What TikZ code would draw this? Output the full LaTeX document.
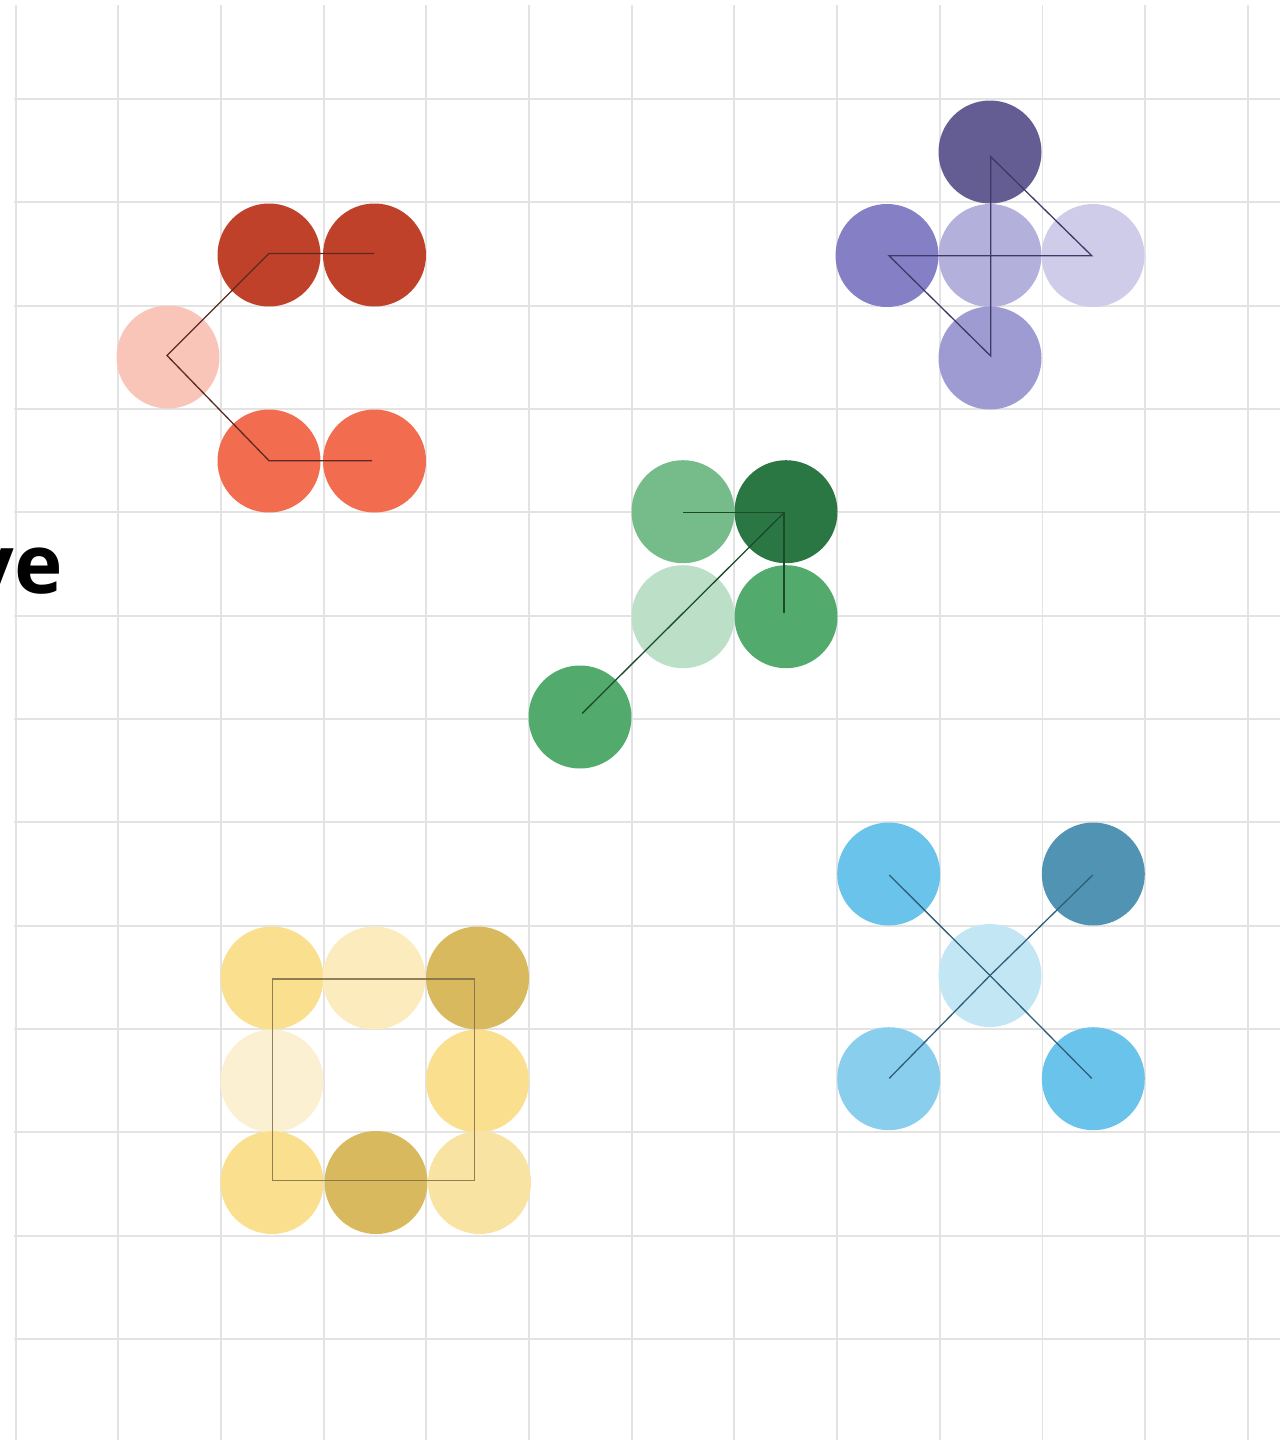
\documentclass[tikz,border=0pt]{standalone}
\usepackage{fontspec}
\setmainfont{Open Sans}
\begin{document}
\begin{tikzpicture}[x=1pt,y=-1pt,
  dot/.style={circle,inner sep=0pt,minimum size=103pt,draw=none,fill=#1},
  gridline/.style={draw=black!11,line width=1.8pt},
  link/.style={line width=1.3pt,draw=#1}]
\definecolor{rA}{HTML}{C0412A}\definecolor{rB}{HTML}{F9C5B9}\definecolor{rC}{HTML}{F26C50}\definecolor{rL}{HTML}{5B2A22}
\definecolor{pA}{HTML}{635D93}\definecolor{pB}{HTML}{8580C5}\definecolor{pC}{HTML}{B4B0DC}\definecolor{pD}{HTML}{CFCCE9}\definecolor{pE}{HTML}{9E9AD2}\definecolor{pL}{HTML}{3C3A68}
\definecolor{gA}{HTML}{76BB8A}\definecolor{gB}{HTML}{2A7744}\definecolor{gC}{HTML}{BCDFC7}\definecolor{gD}{HTML}{53AA6D}\definecolor{gL}{HTML}{1A4A2A}
\definecolor{yA}{HTML}{F9DF8E}\definecolor{yB}{HTML}{FBEBBD}\definecolor{yC}{HTML}{D8B95E}\definecolor{yD}{HTML}{FCF0D3}\definecolor{yE}{HTML}{F9E3A3}\definecolor{yL}{HTML}{7D6E48}
\definecolor{bA}{HTML}{6AC3EA}\definecolor{bB}{HTML}{5193B3}\definecolor{bC}{HTML}{C3E6F5}\definecolor{bD}{HTML}{8ACEEE}\definecolor{bL}{HTML}{2F5E78}
\useasboundingbox (0,0) rectangle (1280,1440);
\clip (0,0) rectangle (1280,1440);
% grid
\foreach \k in {0,...,12} {
  \draw[gridline] ({15.7+102.67*\k},5) -- ({15.7+102.67*\k},1440);
  \draw[gridline] (14,{99+103.33*\k}) -- (1280,{99+103.33*\k});
}
% text
\node[anchor=base east,inner sep=0pt,font=\bfseries\fontsize{82}{90}\selectfont] (title) at (63,593) {ve};
% red group
\node[dot=rA] (r1) at (269,255) {};
\node[dot=rA] (r2) at (374.5,255) {};
\node[dot=rB] (r3) at (168,357) {};
\node[dot=rC] (r4) at (269,461) {};
\node[dot=rC] (r5) at (374.5,461) {};
\coordinate (r2e) at (374,253.5);
\coordinate (r1e) at (269,253.5);
\coordinate (r3e) at (167,355.5);
\coordinate (r4e) at (269,460.7);
\coordinate (r5e) at (372,460.7);
\draw[link=rL] (r2e) -- (r1e) -- (r3e) -- (r4e) -- (r5e);
% purple group
\node[dot=pA] (p1) at (990,152) {};
\node[dot=pB] (p2) at (887,255.5) {};
\node[dot=pC] (p3) at (990,255.5) {};
\node[dot=pD] (p4) at (1093,255.5) {};
\node[dot=pE] (p5) at (990,358) {};
\coordinate (p1e) at (990.7,156.7);
\coordinate (p4e) at (1091.7,255.7);
\coordinate (p2e) at (889,255.7);
\coordinate (p5e) at (990.7,356);
\draw[link=pL] (p1e) -- (p4e) -- (p2e) -- (p5e) -- cycle;
% green group
\node[dot=gA] (g1) at (683,511.7) {};
\node[dot=gB] (g2) at (786,511.7) {};
\node[dot=gC] (g3) at (683,616.7) {};
\node[dot=gD] (g4) at (786,616.7) {};
\node[dot=gD] (g5) at (580,717) {};
\coordinate (g1e) at (683.3,512.7);
\coordinate (g2e) at (784,512.7);
\coordinate (g4e) at (784,613.3);
\coordinate (g5e) at (582.3,713.3);
\draw[link=gL] (g1e) -- (g2e) -- (g4e);
\draw[link=gL] (g2e) -- (g5e);
% yellow group
\node[dot=yA] (y1) at (272,978) {};
\node[dot=yB] (y2) at (374,978) {};
\node[dot=yC] (y3) at (477.5,978) {};
\node[dot=yD] (y4) at (272,1081) {};
\node[dot=yA] (y5) at (477.5,1081) {};
\node[dot=yA] (y6) at (272,1182.5) {};
\node[dot=yC] (y7) at (376,1182.5) {};
\node[dot=yE] (y8) at (479.5,1182.5) {};
\coordinate (ya) at (272.7,979);
\coordinate (yb) at (474.3,1180.7);
\draw[link=yL,draw opacity=0.85] (ya) rectangle (yb);
% blue group
\node[dot=bA] (b1) at (888.7,874) {};
\node[dot=bB] (b2) at (1093.3,874) {};
\node[dot=bC] (b3) at (990,975.5) {};
\node[dot=bD] (b4) at (888.7,1078.7) {};
\node[dot=bA] (b5) at (1093.3,1078.7) {};
\coordinate (b1e) at (889.3,875);
\coordinate (b5e) at (1091.7,1078.3);
\coordinate (b2e) at (1092.7,875);
\coordinate (b4e) at (889.3,1078.3);
\draw[link=bL] (b1e) -- (b3.center) -- (b5e);
\draw[link=bL] (b2e) -- (b3.center) -- (b4e);
\end{tikzpicture}
\end{document}
